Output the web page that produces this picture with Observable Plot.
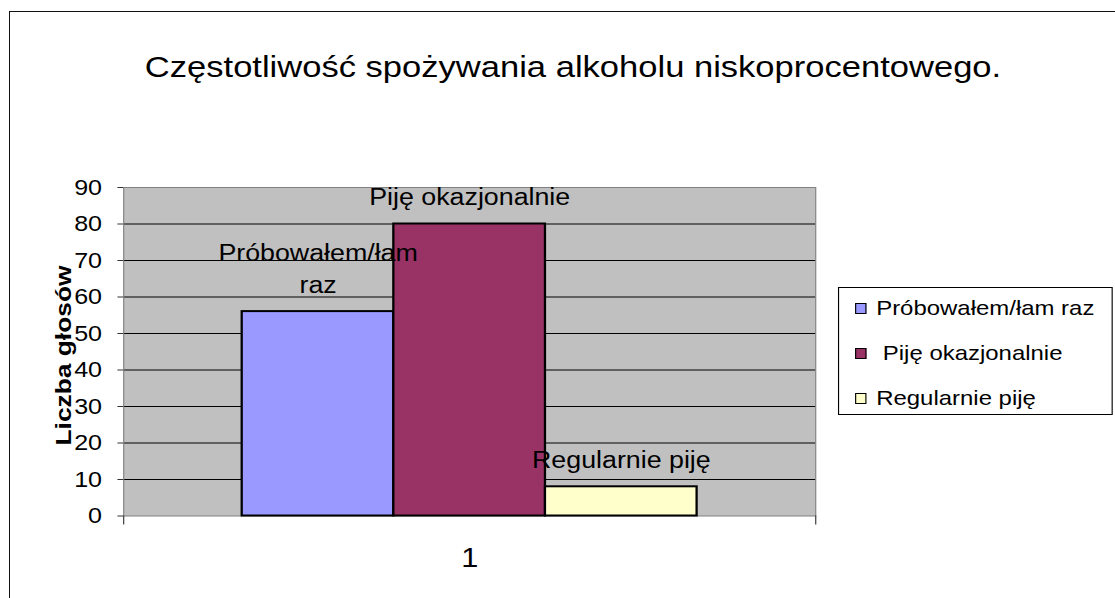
<!DOCTYPE html>
<html>
<head>
<meta charset="utf-8">
<script src="https://cdn.jsdelivr.net/npm/d3@7"></script>
<script src="https://cdn.jsdelivr.net/npm/@observablehq/plot@0.6"></script>
<style>
  body { margin: 0; background: white; }
  #page { position: relative; width: 1115px; height: 598px; overflow: hidden; background: white;
          font-family: Arial, "Liberation Sans", sans-serif; color: black; }
  #inner { position: absolute; left: 0; top: 0; width: 978px; height: 598px;
           transform: scaleX(1.1401); transform-origin: 0 0; }
  #title { position: absolute; left: 102.6px; width: 800px; top: 51.6px; text-align: center;
           font-size: 30.3px; line-height: 30px; white-space: nowrap; }
  #chart { position: absolute; left: 0; top: 130px; }
  #legend { position: absolute; left: 735px; top: 287px; width: 241px; height: 128px;
            border: 1px solid black; box-sizing: border-box; background: white; }
  .item { position: absolute; left: 14px; height: 24px; display: flex; align-items: center;
          font-size: 21px; white-space: pre; }
  .sw { width: 10px; height: 11px; border: 1.5px solid black; box-sizing: border-box; margin-right: 8.5px; }
  #border { position: absolute; left: 9px; top: 11px; right: -5px; bottom: -5px;
            border-left: 1px solid #111; border-top: 1px solid #111; pointer-events: none; }
</style>
</head>
<body>
<div id="page">
  <div id="inner">
    <div id="title"></div>
    <div id="chart"></div>
    <div id="legend"></div>
  </div>
  <div id="border"></div>
</div>
<script>
const titleText = "Częstotliwość spożywania alkoholu niskoprocentowego.";
const yLabel = "Liczba głosów";
const categories = ["1"];
const series = ["Próbowałem/łam raz", "Piję okazjonalnie", "Regularnie piję"];
const values = [56, 80, 8];
const barLabels = ["Próbowałem/łam\nraz", "Piję okazjonalnie", "Regularnie piję"];
const legendLabels = ["Próbowałem/łam raz", " Piję okazjonalnie", "Regularnie piję"];
const colors = ["#9999FF", "#993366", "#FFFFCC"];
const yTicks = [0, 10, 20, 30, 40, 50, 60, 70, 80, 90];

const data = series.map((s, i) => ({category: categories[0], series: s, value: values[i], label: barLabels[i]}));

document.getElementById("title").textContent = titleText;

const W = 978, H = 468, mT = 57, mB = 82.5;
const frameH = H - mT - mB;

const chart = Plot.plot({
  width: W,
  height: H,
  marginLeft: 108,
  marginRight: W - 715,
  marginTop: mT,
  marginBottom: mB,
  style: {fontFamily: 'Arial, "Liberation Sans", sans-serif', fontSize: "22px", color: "black", background: "transparent", overflow: "visible"},
  fx: {domain: categories, padding: 0, label: null},
  x: {domain: series, paddingInner: 0, paddingOuter: 0.771, axis: null},
  y: {domain: [0, 90], label: null},
  color: {domain: series, range: colors},
  marks: [
    Plot.frame({fill: "#C0C0C0"}),
    Plot.gridY(yTicks.filter(t => t > 0 && t < 90), {stroke: "black", strokeOpacity: 1, strokeWidth: 1}),
    Plot.frame({stroke: "#808080"}),
    Plot.barY(data, {fx: "category", x: "series", y: "value", fill: "series", stroke: "black", strokeWidth: 2}),
    Plot.text(data, {fx: "category", x: "series", y: "value", text: "label", lineAnchor: "bottom", dy: -19, fontSize: 23.5, lineHeight: 1.35, fill: "black"}),
    Plot.axisY(yTicks, {tickSize: 5, tickPadding: 14, label: null, fontSize: 22, stroke: "#333"}),
    Plot.axisFx({anchor: "bottom", tickSize: 0, tickPadding: 32, label: null, fontSize: 27}),
    Plot.frame({anchor: "left", insetTop: frameH, insetBottom: -8, stroke: "#333"}),
    Plot.frame({anchor: "right", insetTop: frameH, insetBottom: -8, stroke: "#333"}),
    Plot.text([yLabel], {frameAnchor: "left", dx: -52.5, dy: 93.75, rotate: -90, textAnchor: "start", fontWeight: "bold", fontSize: 19.5, fill: "black"})
  ]
});
document.getElementById("chart").appendChild(chart);

// stretch the rotated axis title along its length as in the reference
d3.select(chart).selectAll("text").filter(function() { return this.textContent === yLabel; })
  .attr("textLength", 180).attr("lengthAdjust", "spacingAndGlyphs");

const legend = document.getElementById("legend");
legendLabels.forEach((t, i) => {
  const item = document.createElement("div");
  item.className = "item";
  item.style.top = (20 + 45 * i - 12) + "px";
  const sw = document.createElement("div");
  sw.className = "sw";
  sw.style.background = colors[i];
  const span = document.createElement("span");
  span.textContent = t;
  item.appendChild(sw);
  item.appendChild(span);
  legend.appendChild(item);
});
</script>
</body>
</html>
